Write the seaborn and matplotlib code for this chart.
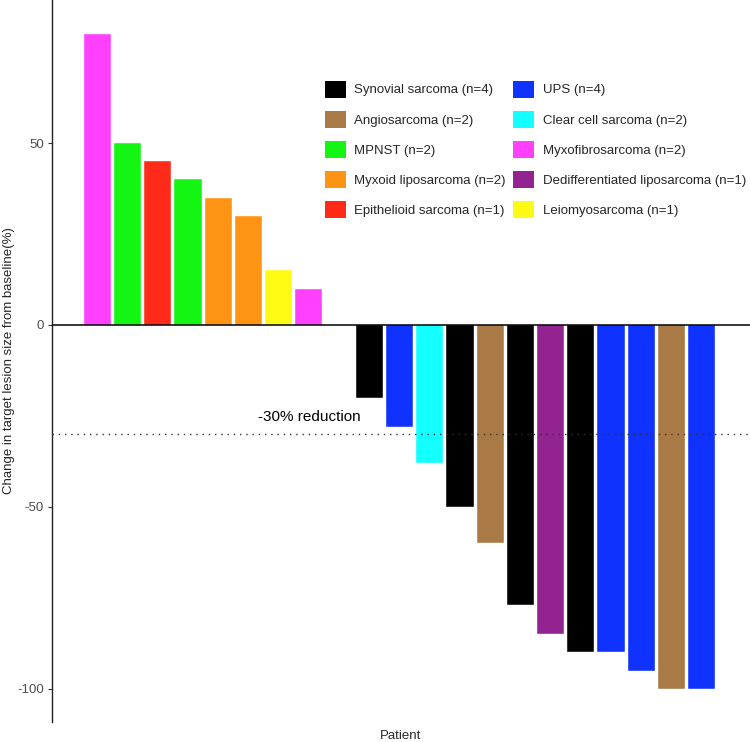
import numpy as np
import pandas as pd
import matplotlib
matplotlib.use("Agg")
import matplotlib.pyplot as plt
from matplotlib.patches import Patch
import seaborn as sns

# ==========================================
# 数据
# ==========================================
patients = [str(i) for i in range(1, 22)]
change = [80, 50, 45, 40, 35, 30, 15, 10, 0,
          -20, -28, -38, -50, -60, -77, -85, -90, -90, -95, -100, -100]
subtype = ["Myxofibrosarcoma", "MPNST", "Epithelioid sarcoma", "MPNST",
           "Myxoid liposarcoma", "Myxoid liposarcoma", "Leiomyosarcoma",
           "Myxofibrosarcoma", "Clear cell sarcoma",
           "Synovial sarcoma", "UPS", "Clear cell sarcoma", "Synovial sarcoma",
           "Angiosarcoma", "Synovial sarcoma", "Dedifferentiated liposarcoma",
           "Synovial sarcoma", "UPS", "UPS", "Angiosarcoma", "UPS"]

legend_order = ["Synovial sarcoma", "Angiosarcoma", "MPNST", "Myxoid liposarcoma",
                "Epithelioid sarcoma", "UPS", "Clear cell sarcoma", "Myxofibrosarcoma",
                "Dedifferentiated liposarcoma", "Leiomyosarcoma"]
legend_labels = ["Synovial sarcoma (n=4)", "Angiosarcoma (n=2)", "MPNST (n=2)",
                 "Myxoid liposarcoma (n=2)", "Epithelioid sarcoma (n=1)",
                 "UPS (n=4)", "Clear cell sarcoma (n=2)", "Myxofibrosarcoma (n=2)",
                 "Dedifferentiated liposarcoma (n=1)", "Leiomyosarcoma (n=1)"]
colors = ["#000000", "#A97A45", "#14F514", "#FF9414", "#FF2A1A",
          "#0F32FF", "#14FFFF", "#FF40FF", "#922391", "#FFFA14"]
palette = dict(zip(legend_order, colors))

threshold = -30

df = pd.DataFrame({"patient": patients, "change": change, "subtype": subtype})

# ==========================================
# 绘图
# ==========================================
sns.set_style("white")
plt.rcParams["font.family"] = ["Liberation Sans", "DejaVu Sans"]
plt.rcParams["axes.unicode_minus"] = False

fig = plt.figure(figsize=(7.5, 7.42), dpi=100)
ax = fig.add_axes([52 / 750, 1 - 722 / 742, 1 - 52 / 750, 722 / 742])

sns.barplot(data=df, x="patient", y="change", hue="subtype", palette=palette,
            order=patients, dodge=False, width=0.9, legend=False, saturation=1,
            edgecolor="white", linewidth=0.3, ax=ax)

ax.axhline(0, color="black", lw=1.1, zorder=3)
ax.axhline(threshold, color="#333333", lw=1.0, ls=(0, (1, 3.5)), zorder=4)
ax.text(7, -25.3, "-30% reduction", ha="center", va="center", fontsize=11, color="black")

ax.set_xlim(-1.5, 21.6)
ax.set_ylim(-109.1, 89.3)
ax.set_yticks([-100, -50, 0, 50])
ax.set_xticks([])
ax.tick_params(axis="y", left=True, length=3, width=0.8, color="#333333",
               labelsize=9.5, labelcolor="#4D4D4D", pad=3)
ax.set_xlabel("Patient", fontsize=9.5, labelpad=6)
ax.set_ylabel("Change in target lesion size from baseline(%)", fontsize=9.5)
ax.yaxis.set_label_coords(-0.053, 0.5)

for side in ["top", "right", "bottom"]:
    ax.spines[side].set_visible(False)
ax.spines["left"].set_color("#222222")
ax.spines["left"].set_linewidth(1.0)

handles = [Patch(facecolor=palette[k], edgecolor="none") for k in legend_order]
leg = ax.legend(handles, legend_labels, ncol=2, loc="upper left",
                frameon=False, fontsize=9.5, handlelength=1.6, handleheight=1.6,
                handletextpad=0.65, labelspacing=1.0, columnspacing=0.55, borderpad=0)
leg.set_bbox_to_anchor((318 / 750, 1 - 74 / 742), transform=fig.transFigure)

fig.savefig("out.png", dpi=100)
